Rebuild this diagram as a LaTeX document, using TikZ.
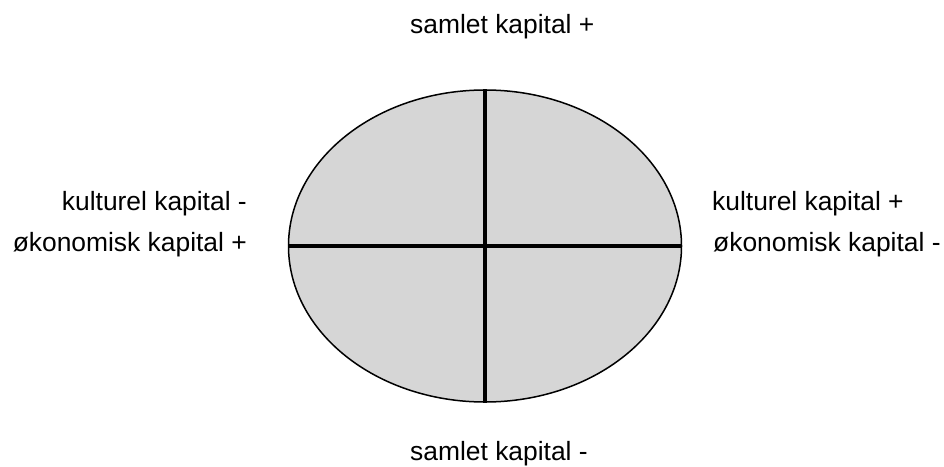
\documentclass[tikz,border=0pt]{standalone}
\usepackage{fontspec}
\setmainfont{Liberation Sans}
\usetikzlibrary{shapes.geometric}
\begin{document}
\begin{tikzpicture}[
  x=1pt,
  y=-1pt,
  felt/.style={
    draw=black,
    fill=black!16,
    ellipse,
    line width=1.5pt,
    inner sep=0pt,
    minimum width=393pt,
    minimum height=312pt
  },
  akse/.style={
    draw=black,
    line width=4pt,
    line cap=butt
  },
  etiket/.style={
    inner sep=0pt,
    font=\fontsize{26.4}{30}\selectfont
  }
]

\useasboundingbox (0,0) rectangle (944,466);

\node[felt] (rum) at (485,246) {};

\draw[akse] (rum.west) -- (rum.east);
\draw[akse] (rum.north) -- (rum.south);

\node[etiket, anchor=base west] (samletplus) at (410,33) {samlet kapital +};
\node[etiket, anchor=base west] (samletminus) at (410,460) {samlet kapital -};
\node[etiket, anchor=base east] (kulturminus) at (247,210) {kulturel kapital -};
\node[etiket, anchor=base east] (oekoplus) at (247,251) {økonomisk kapital +};
\node[etiket, anchor=base west] (kulturplus) at (712,210) {kulturel kapital +};
\node[etiket, anchor=base west] (oekominus) at (713,251) {økonomisk kapital -};

\end{tikzpicture}
\end{document}
